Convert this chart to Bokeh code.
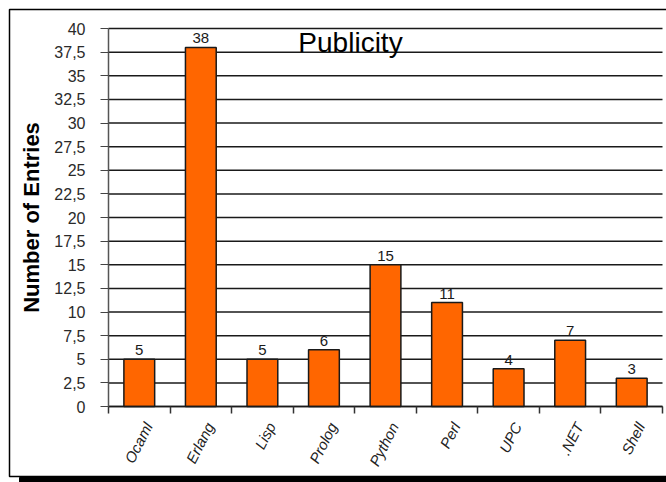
from bokeh.plotting import figure
from bokeh.models import Range1d, FixedTicker, BoxAnnotation, Label, ColumnDataSource
from bokeh.core.properties import value
from bokeh.embed import file_html
from bokeh.resources import INLINE

categories = ["Ocaml", "Erlang", "Lisp", "Prolog", "Python", "Perl", "UPC", ".NET", "Shell"]
entries = [5, 38, 5, 6, 15, 11, 4, 7, 3]
ytick_values = [0, 2.5, 5, 7.5, 10, 12.5, 15, 17.5, 20, 22.5, 25, 27.5, 30, 32.5, 35, 37.5, 40]
ytick_labels = ["0", "2,5", "5", "7,5", "10", "12,5", "15", "17,5", "20", "22,5", "25",
                "27,5", "30", "32,5", "35", "37,5", "40"]
title_text = "Publicity"
ylabel = "Number of Entries"

FONT = "Liberation Sans"

# layout (pixels): the plotting area inside the full canvas
W, H = 666, 482
PL, PR, PT, PB = 108, 662, 28, 406
YMAX = 40
n = len(categories)
xs = (PR - PL) / n          # px per category
ys = (PB - PT) / YMAX       # px per unit

x_range = Range1d(-PL / xs, n + (W - PR) / xs)
y_range = Range1d(-(H - PB) / ys, YMAX + PT / ys)

p = figure(width=W, height=H, output_backend="svg", toolbar_location=None,
           x_range=x_range, y_range=y_range,
           min_border_left=0, min_border_right=0, min_border_top=0, min_border_bottom=0)
p.outline_line_color = None
p.background_fill_color = "white"
p.border_fill_color = "white"
p.xgrid.visible = False
p.ygrid.visible = False

centers = [i + 0.5 for i in range(n)]
src = ColumnDataSource(dict(x=centers, top=entries, cat=categories,
                            lab=[str(v) for v in entries]))

# horizontal grid lines across the plotting area
p.segment(x0=[0] * len(ytick_values), x1=[n] * len(ytick_values),
          y0=ytick_values, y1=ytick_values, line_color="#1a1a1a", line_width=1.5)

# bars
p.vbar(x="x", top="top", bottom=0, width=0.5, source=src,
       fill_color="#FF6600", line_color="#1a1a1a", line_width=1.5)

# value labels
p.text(x="x", y="top", text="lab", source=src, text_align="center",
       text_baseline="bottom", y_offset=-4, text_font=value(FONT),
       text_font_size="15px", text_color="#1a1a1a")

# category labels
p.text(x="x", y=0, text="cat", source=src, angle=63, angle_units="deg",
       text_align="right", text_baseline="middle", x_offset=9, y_offset=17,
       text_font=value(FONT), text_font_style="italic", text_font_size="15px",
       text_color="#222222")

# y axis
ya = p.yaxis[0]
ya.fixed_location = 0
ya.bounds = (0, YMAX)
ya.ticker = FixedTicker(ticks=ytick_values)
ya.major_label_overrides = {v: l for v, l in zip(ytick_values, ytick_labels)}
ya.major_label_text_font = FONT
ya.major_label_text_font_size = "16px"
ya.major_label_text_color = "#2a2a2a"
ya.major_label_standoff = 15
ya.major_tick_in = 0
ya.major_tick_out = 8
ya.minor_tick_line_color = None
ya.axis_line_color = "#555555"
ya.axis_line_width = 1.5
ya.major_tick_line_color = "#444444"
ya.axis_label = ylabel
ya.axis_label_text_font = FONT
ya.axis_label_text_font_style = "bold"
ya.axis_label_text_font_size = "22px"
ya.axis_label_text_color = "black"
ya.axis_label_standoff = 7

# x axis
xa = p.xaxis[0]
xa.fixed_location = 0
xa.bounds = (0, n)
xa.ticker = FixedTicker(ticks=list(range(n + 1)))
xa.major_label_text_color = None
xa.major_label_text_font_size = "1px"
xa.major_tick_in = 0
xa.major_tick_out = 7
xa.minor_tick_line_color = None
xa.axis_line_color = "#1a1a1a"
xa.axis_line_width = 1.5
xa.major_tick_line_color = "#333333"
xa.major_tick_line_width = 1.5

# outer frame and its shadow
p.add_layout(BoxAnnotation(left=9, right=720, top=9, bottom=476,
                           left_units="canvas", right_units="canvas",
                           top_units="canvas", bottom_units="canvas",
                           fill_color=None, fill_alpha=0,
                           line_color="black", line_alpha=1, line_width=1.5))
p.add_layout(BoxAnnotation(left=19, right=720, top=477, bottom=495,
                           left_units="canvas", right_units="canvas",
                           top_units="canvas", bottom_units="canvas",
                           fill_color="black", fill_alpha=1,
                           line_color="black", line_alpha=1))

# title
p.add_layout(Label(x=350, y=42, x_units="canvas", y_units="canvas", text=title_text,
                   text_align="center", text_baseline="alphabetic", text_font=FONT,
                   text_font_size="28px", text_color="black"))

open("out.html", "w").write(file_html(p, INLINE))
